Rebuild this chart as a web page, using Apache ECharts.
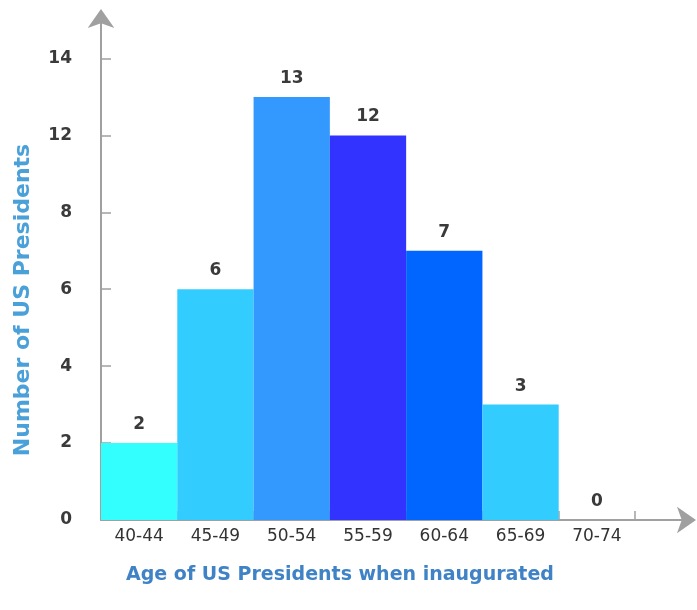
<!DOCTYPE html>
<html>
<head>
<meta charset="utf-8">
<script src="https://cdn.jsdelivr.net/npm/echarts@6/dist/echarts.min.js"></script>
<style>
  html, body { margin: 0; padding: 0; background: #ffffff; }
  #chart { width: 697px; height: 610px; }
</style>
</head>
<body>
<div id="chart"></div>
<script>
// Age groups at inauguration
const ageGroups = ['40-44', '45-49', '50-54', '55-59', '60-64', '65-69', '70-74'];
// Number of presidents in each age group
const presidentCounts = [2, 6, 13, 12, 7, 3, 0];
// Fill colour for each bar
const barColors = ['#33FFFF', '#33CCFF', '#3399FF', '#3333FF', '#0066FF', '#33CCFF', '#33CCFF'];

const axisGray = '#a0a0a0';
const labelFont = 'DejaVu Sans';

const chart = echarts.init(document.getElementById('chart'));

const arrowLine = {
  show: true,
  lineStyle: { color: axisGray, width: 2 },
  symbol: ['none', 'arrow'],
  symbolSize: [20, 19],
  symbolOffset: [0, 11]
};

chart.setOption({
  backgroundColor: '#ffffff',
  animation: false,
  grid: [
    { left: 101, right: 62, top: 20, bottom: 90, outerBoundsMode: 'none' },
    // wider grid that carries the full-length axis lines with their arrows
    { left: 101, right: 12, top: 20, bottom: 90, outerBoundsMode: 'none' }
  ],
  xAxis: [
    {
      type: 'category',
      gridIndex: 0,
      data: ageGroups,
      axisLine: { show: false },
      axisTick: { show: true, inside: true, length: 9, lineStyle: { color: axisGray, width: 1.5 } },
      axisLabel: { color: '#333333', fontFamily: labelFont, fontSize: 17, margin: 8 },
      name: 'Age of US Presidents when inaugurated',
      nameLocation: 'middle',
      nameGap: 46,
      nameTextStyle: {
        color: '#3f82c6', fontFamily: labelFont, fontSize: 19, fontWeight: 'bold',
        padding: [0, 56, 0, 0]
      }
    },
    {
      type: 'value',
      gridIndex: 1,
      min: 0,
      max: 1,
      axisLine: arrowLine,
      axisTick: { show: false },
      axisLabel: { show: false },
      splitLine: { show: false }
    }
  ],
  yAxis: [
    {
      type: 'value',
      gridIndex: 0,
      min: 0,
      max: 15,
      interval: 2,
      breaks: [{ start: 8, end: 12, gap: 2 }],
      breakArea: { show: false },
      axisLine: { show: false },
      axisTick: { show: true, inside: true, length: 10, lineStyle: { color: axisGray, width: 1.5 } },
      axisLabel: {
        color: '#3a3a3a', fontFamily: labelFont, fontSize: 17, fontWeight: 'bold', margin: 29,
        showMaxLabel: false
      },
      splitLine: { show: false },
      name: 'Number of US Presidents',
      nameLocation: 'middle',
      nameGap: 67,
      nameRotate: 90,
      nameTextStyle: {
        color: '#4aa0d8', fontFamily: labelFont, fontSize: 22, fontWeight: 'bold',
        padding: [0, 60, 0, 0]
      }
    },
    {
      type: 'value',
      gridIndex: 1,
      min: 0,
      max: 1,
      axisLine: arrowLine,
      axisTick: { show: false },
      axisLabel: { show: false },
      splitLine: { show: false }
    }
  ],
  series: [
    {
      type: 'bar',
      xAxisIndex: 0,
      yAxisIndex: 0,
      barCategoryGap: '0%',
      data: presidentCounts.map((v, i) => ({ value: v, itemStyle: { color: barColors[i] } })),
      label: {
        show: true,
        position: 'top',
        distance: 10,
        color: '#3a3a3a',
        fontFamily: labelFont,
        fontSize: 17,
        fontWeight: 'bold'
      }
    }
  ]
});
</script>
</body>
</html>
